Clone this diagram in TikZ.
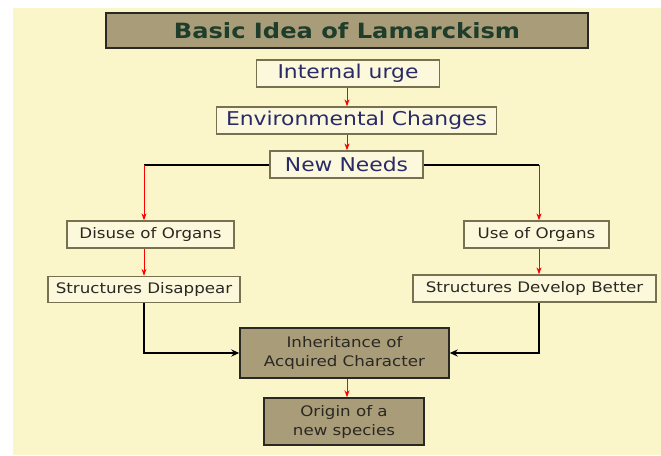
\documentclass[tikz,border=0pt]{standalone}
\usepackage{fontspec}
\setmainfont[FakeStretch=1.15]{DejaVu Sans}
\usetikzlibrary{arrows.meta}

\definecolor{paper}{HTML}{FBF6C9}
\definecolor{lightbox}{HTML}{FCF8DC}
\definecolor{lightedge}{HTML}{77714F}
\definecolor{tanbox}{HTML}{A99C79}
\definecolor{titlegreen}{HTML}{1E3D2A}
\definecolor{navy}{HTML}{2A2A68}
\definecolor{ink}{HTML}{2A2822}

\tikzset{
  titlebox/.style={draw=ink, line width=1.4pt, fill=tanbox, minimum width=482pt,
    minimum height=35pt, inner sep=0pt, text=titlegreen, font=\fontsize{21}{21}\selectfont\bfseries},
  stagebox/.style={draw=lightedge, line width=1.3pt, fill=lightbox, minimum height=27pt,
    inner sep=0pt, text=navy, font=\fontsize{19}{19}\selectfont},
  organbox/.style={draw=lightedge, line width=1.3pt, fill=lightbox, minimum height=27pt,
    inner sep=0pt, text=ink, font=\fontsize{14.5}{14.5}\selectfont},
  resultbox/.style={draw=ink, line width=1.4pt, fill=tanbox, inner sep=0pt, align=center,
    text=ink, font=\fontsize{14.5}{19}\selectfont},
  redarrow/.style={draw=red, line width=0.9pt, -{Stealth[length=7pt,width=5pt]}},
  blackline/.style={draw=black, line width=2pt},
  blackarrow/.style={draw=black, line width=2pt, -{Stealth[length=8pt,width=7pt]}}
}

\begin{document}
\begin{tikzpicture}[x=1pt, y=-1pt]
    % page
    \useasboundingbox (0,0) rectangle (661,455);
    \fill[white] (0,0) rectangle (661,455);
    \fill[paper] (13,8) rectangle (661,455);

    % draw nodes
    \node[titlebox] (title) at (347,30.5) {Basic Idea of Lamarckism};
    \node[stagebox, minimum width=183pt] (urge) at (348,73.5) {Internal urge};
    \node[stagebox, minimum width=280pt] (env) at (356.5,120.5) {Environmental Changes};
    \node[stagebox, minimum width=153pt] (needs) at (346.5,164.5) {New Needs};
    \node[organbox, minimum width=167pt] (disuse) at (150.5,234.5) {Disuse of Organs};
    \node[organbox, minimum width=145pt] (use) at (536.5,234.5) {Use of Organs};
    \node[organbox, minimum width=192pt, minimum height=26pt] (vanish) at (144,289.5) {Structures Disappear};
    \node[organbox, minimum width=243pt] (develop) at (534.5,288.5) {Structures Develop Better};
    \node[resultbox, minimum width=209pt, minimum height=50pt] (inherit) at (344.5,353)
      {Inheritance of\\Acquired Character};
    \node[resultbox, minimum width=160pt, minimum height=47pt] (origin) at (344,421.5)
      {Origin of a\\new species};

    % draw branch points
    \coordinate (left) at (144,0);
    \coordinate (right) at (539,0);
    \coordinate (mid) at (347,0);

    % draw connectors
    \draw[redarrow] (urge.south -| mid) -- (env.north -| mid);
    \draw[redarrow] (env.south -| mid) -- (needs.north -| mid);
    \draw[blackline] (needs.west) -- (needs.west -| left);
    \draw[blackline] (needs.east) -- (needs.east -| right);
    \draw[redarrow] (needs.west -| left) -- (disuse.north -| left);
    \draw[redarrow] (needs.east -| right) -- (use.north -| right);
    \draw[redarrow] (disuse.south -| left) -- (vanish.north -| left);
    \draw[redarrow] (use.south -| right) -- (develop.north -| right);
    \draw[blackarrow] (vanish.south -| left) |- (inherit.west);
    \draw[blackarrow] (develop.south -| right) |- (inherit.east);
    \draw[redarrow] (inherit.south -| mid) -- (origin.north -| mid);
\end{tikzpicture}
\end{document}
